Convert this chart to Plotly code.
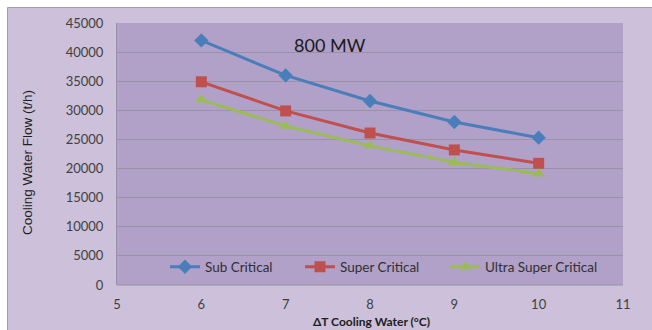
import plotly.graph_objects as go

delta_t = [6, 7, 8, 9, 10]
sub_critical = [42000, 36000, 31600, 28000, 25300]
super_critical = [34900, 29900, 26100, 23200, 20900]
ultra_super_critical = [31800, 27300, 23900, 21100, 19100]

x_ticks = [5, 6, 7, 8, 9, 10, 11]
y_ticks = [0, 5000, 10000, 15000, 20000, 25000, 30000, 35000, 40000, 45000]

FONT = "Lato"
L, R, T, B = 117, 29, 23, 45
W, H = 652, 330
pw, ph = W - L - R, H - T - B

def fx(px):
    return (px - L) / pw

def fy(py):
    return (H - B - py) / ph

fig = go.Figure()
series = [
    ("Sub Critical", sub_critical, "#4A7EBB", "diamond", 11, "legend", 172),
    ("Super Critical", super_critical, "#C0504D", "square", 11, "legend2", 307),
    ("Ultra Super Critical", ultra_super_critical, "#9BBB59", "triangle-up", 11, "legend3", 452),
]
for name, vals, col, sym, ms, lg, lx in series:
    fig.add_trace(go.Scatter(
        x=delta_t, y=vals, name=name, mode="lines+markers",
        line=dict(color=col, width=3),
        marker=dict(symbol=sym, size=ms, color=col),
        legend=lg,
    ))

def legend_cfg(px):
    return dict(
        x=fx(px), y=fy(267), xanchor="left", yanchor="middle",
        bgcolor="rgba(0,0,0,0)", borderwidth=0,
        font=dict(family=FONT, size=13.5, color="#303030"),
        orientation="h", itemwidth=30,
    )

fig.update_layout(
    width=W, height=H,
    margin=dict(l=L, r=R, t=T, b=B, autoexpand=False),
    paper_bgcolor="white",
    plot_bgcolor="rgba(0,0,0,0)",
    font=dict(family=FONT, size=13, color="#404040"),
    showlegend=True,
    legend=legend_cfg(172 - 7),
    legend2=legend_cfg(307 - 7),
    legend3=legend_cfg(452 - 7),
    shapes=[
        dict(type="rect", xref="paper", yref="paper",
             x0=fx(7.5), x1=fx(W + 5), y0=fy(H + 5), y1=fy(7.5),
             fillcolor="#CCC0DA", line=dict(color="#A0A0A0", width=1), layer="below"),
        dict(type="rect", xref="paper", yref="paper",
             x0=0, x1=1, y0=0, y1=1,
             fillcolor="#B1A0C7", line=dict(width=0), layer="below"),
    ],
    annotations=[
        dict(text="800 MW", xref="paper", yref="paper", x=fx(330), y=fy(45),
             xanchor="center", yanchor="middle", showarrow=False,
             font=dict(family=FONT, size=18, color="#1A1A1A")),
        dict(text="<b>ΔT Cooling Water (°C)</b>", xref="paper", yref="paper",
             x=fx(371), y=fy(329.5), xanchor="center", yanchor="bottom", showarrow=False,
             borderpad=0,
             font=dict(family=FONT, size=12, color="#202020")),
        dict(text="Cooling Water Flow (t/h)", xref="paper", yref="paper",
             x=fx(27), y=fy(163), xanchor="center", yanchor="middle", showarrow=False,
             textangle=-90,
             font=dict(family="Liberation Sans", size=13.5, color="#202020")),
    ],
)
fig.update_xaxes(
    range=[5, 11], tickvals=x_ticks, ticktext=[str(v) for v in x_ticks],
    showgrid=False, zeroline=False, showline=False, automargin=False,
    ticks="outside", ticklen=7, tickcolor="rgba(0,0,0,0)",
    tickfont=dict(family=FONT, size=13, color="#404040"),
)
fig.update_yaxes(
    range=[0, 45000], tickvals=y_ticks, ticktext=[str(v) for v in y_ticks],
    showgrid=True, gridcolor="#9A92A4", gridwidth=1, automargin=False,
    zeroline=False, showline=True, linecolor="#9A92A4", linewidth=1,
    ticks="outside", ticklen=10, tickcolor="rgba(0,0,0,0)",
    tickfont=dict(family=FONT, size=13, color="#404040"),
)
fig.add_shape(type="line", xref="paper", yref="paper", x0=0, x1=1, y0=0, y1=0,
              line=dict(color="#9A92A4", width=1))
fig.write_html("out.html")
